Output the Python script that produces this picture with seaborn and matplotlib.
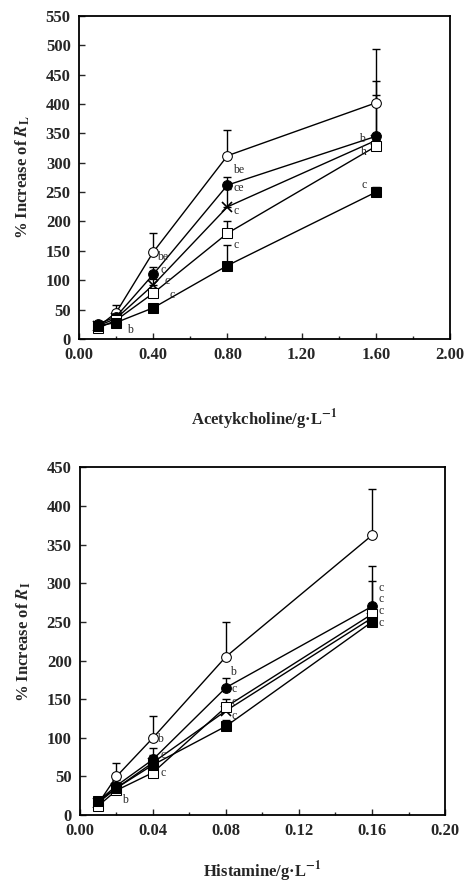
import numpy as np
import pandas as pd
import seaborn as sns
import matplotlib.pyplot as plt

# Acetylcholine panel
ach_dose = [0.1, 0.2, 0.4, 0.8, 1.6]
ach_open_circle = [20, 45, 148, 312, 402]
ach_open_circle_err = [0, 12, 32, 43, 92]
ach_filled_circle = [25, 38, 110, 262, 345]
ach_filled_circle_err = [0, 8, 12, 13, 95]
ach_cross = [22, 35, 92, 225, 338]
ach_cross_err = [0, 6, 10, 30, 78]
ach_open_square = [18, 32, 78, 180, 328]
ach_open_square_err = [0, 5, 8, 20, 10]
ach_filled_square = [22, 28, 53, 125, 250]
ach_filled_square_err = [0, 4, 6, 35, 8]

# Histamine panel
his_dose = [0.01, 0.02, 0.04, 0.08, 0.16]
his_open_circle = [15, 50, 100, 205, 362]
his_open_circle_err = [0, 18, 28, 45, 60]
his_filled_circle = [18, 38, 72, 165, 270]
his_filled_circle_err = [0, 8, 15, 12, 52]
his_cross = [16, 35, 68, 135, 255]
his_cross_err = [0, 6, 10, 10, 48]
his_open_square = [12, 32, 55, 140, 260]
his_open_square_err = [0, 5, 8, 10, 12]
his_filled_square = [18, 35, 65, 115, 250]
his_filled_square_err = [0, 4, 6, 8, 10]

ach_labels = [(0.83, 288, 'be'), (0.83, 257, 'ce'), (0.83, 218, 'c'),
              (0.83, 160, 'c'), (0.42, 140, 'be'), (0.44, 118, 'c'),
              (0.46, 98, 'c'), (0.49, 75, 'c'), (0.26, 15, 'b'),
              (1.51, 340, 'b'), (1.52, 318, 'h'), (1.52, 262, 'c')]
his_labels = [(0.082, 185, 'b'), (0.083, 163, 'c'), (0.083, 146, 'c'),
              (0.083, 128, 'c'), (0.042, 98, 'b'), (0.044, 78, 'c'),
              (0.044, 55, 'c'), (0.023, 20, 'b'), (0.1635, 294, 'c'),
              (0.1635, 279, 'c'), (0.1635, 264, 'c'), (0.1635, 249, 'c')]

sns.set_theme(style="ticks")
plt.rcParams['font.family'] = ['Liberation Serif', 'DejaVu Serif']
plt.rcParams['mathtext.fontset'] = 'stix'
plt.rcParams['font.weight'] = 'bold'

styles = [
    dict(marker='o', markerfacecolor='white'),
    dict(marker='o', markerfacecolor='black'),
    dict(marker='x', markerfacecolor='black', markeredgewidth=1.2),
    dict(marker='s', markerfacecolor='white'),
    dict(marker='s', markerfacecolor='black'),
]


def draw_panel(ax, dose, series, labels, xmax, xstep, ymax, xlabel, sub, xpad):
    for (vals, err), st in zip(series, styles):
        df = pd.DataFrame({'dose': dose, 'value': vals})
        ax.errorbar(dose, vals, yerr=[np.zeros(len(err)), err], fmt='none',
                    ecolor='black', elinewidth=1.0, capsize=3, capthick=1.0, zorder=2)
        sns.lineplot(data=df, x='dose', y='value', ax=ax, color='black', lw=1.0,
                     markersize=7, markeredgecolor='black', zorder=3, **st)
    for x, y, t in labels:
        ax.text(x, y, t, fontsize=8.5, fontweight='normal', va='center', ha='left')
    ax.set_xlim(0, xmax)
    ax.set_ylim(0, ymax)
    ax.set_xticks(np.arange(0, xmax + xstep / 2, xstep))
    ax.set_xticks(np.arange(0, xmax + xstep / 4, xstep / 2), minor=True)
    ax.set_yticks(np.arange(0, ymax + 1, 50))
    ax.xaxis.set_major_formatter(plt.FormatStrFormatter('%.2f'))
    ax.tick_params(direction='in', length=4, width=1, labelsize=12, pad=6)
    ax.tick_params(which='minor', direction='in', length=2.5, width=1)
    for lab in ax.get_xticklabels() + ax.get_yticklabels():
        lab.set_fontweight('bold')
    for s in ax.spines.values():
        s.set_visible(True)
        s.set_linewidth(1.3)
        s.set_color('black')
    ax.set_xlabel(xlabel, fontsize=12, fontweight='bold', labelpad=xpad)
    ax.set_ylabel('% Increase of $\\mathbfit{R}_{\\mathrm{' + sub + '}}$',
                  fontsize=12, fontweight='bold', labelpad=10)


fig = plt.figure(figsize=(4.65, 8.85), dpi=100)
ax1 = fig.add_axes([0.170, 0.617, 0.798, 0.365])
ax2 = fig.add_axes([0.172, 0.079, 0.785, 0.393])

draw_panel(ax1, ach_dose,
           [(ach_open_circle, ach_open_circle_err),
            (ach_filled_circle, ach_filled_circle_err),
            (ach_cross, ach_cross_err),
            (ach_open_square, ach_open_square_err),
            (ach_filled_square, ach_filled_square_err)],
           ach_labels, 2.0, 0.4, 550, 'Acetykcholine/g\u00b7L$^{-1}$', 'L', 32)
draw_panel(ax2, his_dose,
           [(his_open_circle, his_open_circle_err),
            (his_filled_circle, his_filled_circle_err),
            (his_cross, his_cross_err),
            (his_open_square, his_open_square_err),
            (his_filled_square, his_filled_square_err)],
           his_labels, 0.20, 0.04, 450, 'Histamine/g\u00b7L$^{-1}$', 'I', 14)

fig.savefig('out.png', dpi=100, facecolor='white')
